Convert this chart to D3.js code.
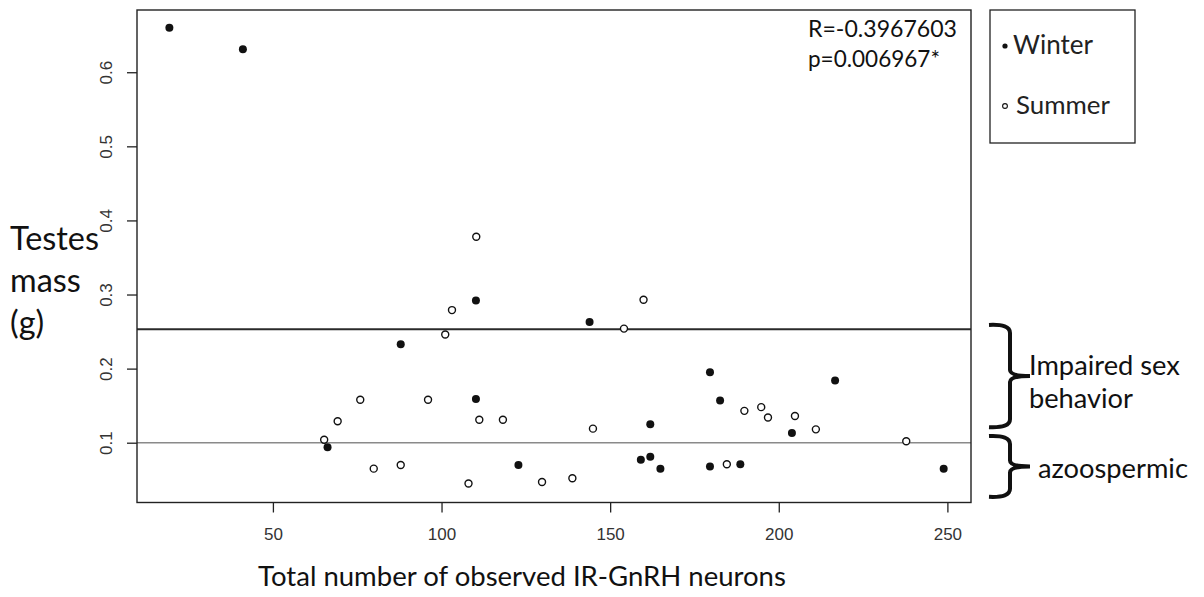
<!DOCTYPE html>
<html>
<head>
<meta charset="utf-8">
<script src="https://cdn.jsdelivr.net/npm/d3@7"></script>
<style>
  html, body { margin: 0; padding: 0; background: #fff; }
  svg { display: block; }
</style>
</head>
<body>
<svg id="chart" width="1204" height="597"></svg>
<script>
// ---------------- data ----------------
const winterX = [19.3, 41.1, 110.2, 87.9, 143.9, 110.2, 161.9, 66.2, 122.8, 159.1, 161.9, 164.9, 179.6, 182.6, 216.7, 203.9, 179.6, 188.6, 248.9];
const winterY = [0.660, 0.631, 0.292, 0.233, 0.263, 0.159, 0.125, 0.094, 0.070, 0.077, 0.081, 0.065, 0.195, 0.157, 0.184, 0.113, 0.068, 0.071, 0.065];
const summerX = [110.3, 103.1, 101.1, 154.1, 159.9, 75.9, 96.0, 69.2, 111.2, 118.2, 144.9, 65.2, 79.9, 87.9, 108.0, 129.8, 138.8, 189.8, 194.8, 196.8, 204.8, 211.0, 237.8, 184.6];
const summerY = [0.378, 0.279, 0.246, 0.254, 0.293, 0.158, 0.158, 0.129, 0.131, 0.131, 0.119, 0.104, 0.065, 0.070, 0.045, 0.047, 0.052, 0.143, 0.148, 0.134, 0.136, 0.118, 0.102, 0.071];
const xTicks = [50, 100, 150, 200, 250];
const yTicks = [0.1, 0.2, 0.3, 0.4, 0.5, 0.6];
const thresholds = [0.253, 0.1];
const braceRanges = [[0.259, 0.121], [0.109, 0.027]];
const braceLabels = [["Impaired sex", "behavior"], ["azoospermic"]];
const legendLabels = ["Winter", "Summer"];
const statLines = ["R=-0.3967603", "p=0.006967*"];
const xTitle = "Total number of observed IR-GnRH neurons";
const yTitle = ["Testes", "mass", "(g)"];

// ---------------- layout ----------------
const svg = d3.select("#chart");
const L = 137, R = 971, T = 10, B = 502.5;
const x = d3.scaleLinear().domain([9.7, 257]).range([L, R]);
const y = d3.scaleLinear().domain([0.0193, 0.684]).range([B, T]);
const calib = "Lato, 'Open Sans', sans-serif";
const tickFont = "'Liberation Sans', Arial, sans-serif";

function fit(sel, w) {
  sel.each(function () {
    const n = this;
    const fs = parseFloat(n.getAttribute("font-size"));
    const len = n.getComputedTextLength();
    if (len > 0) n.setAttribute("font-size", (fs * w / len).toFixed(2));
  });
}

// threshold lines
svg.append("g").selectAll("line").data(thresholds).join("line")
  .attr("x1", L).attr("x2", R)
  .attr("y1", d => y(d)).attr("y2", d => y(d))
  .attr("stroke", (d, i) => i === 0 ? "#2a2a2a" : "#8a8a8a")
  .attr("stroke-width", (d, i) => i === 0 ? 2 : 1.6);

// frame
svg.append("rect").attr("x", L).attr("y", T).attr("width", R - L).attr("height", B - T)
  .attr("fill", "none").attr("stroke", "#222").attr("stroke-width", 1.4);

// x axis
const gx = svg.append("g").attr("transform", `translate(0,${B})`)
  .call(d3.axisBottom(x).tickValues(xTicks).tickSize(10).tickPadding(15).tickFormat(d3.format("d")));
gx.select(".domain").remove();
gx.selectAll(".tick line").attr("stroke", "#222").attr("stroke-width", 1.3);
gx.selectAll(".tick text").attr("font-family", tickFont).attr("font-size", 17).attr("fill", "#333");

// y axis
const gy = svg.append("g").attr("transform", `translate(${L},0)`)
  .call(d3.axisLeft(y).tickValues(yTicks).tickSize(10).tickFormat(d3.format(".1f")));
gy.select(".domain").remove();
gy.selectAll(".tick line").attr("stroke", "#222").attr("stroke-width", 1.3);
gy.selectAll(".tick text")
  .attr("font-family", tickFont).attr("font-size", 17).attr("fill", "#333")
  .attr("text-anchor", "middle").attr("dy", null).attr("x", null)
  .attr("transform", "translate(-25,0) rotate(-90)");

// points
const winter = winterX.map((v, i) => [v, winterY[i]]);
const summer = summerX.map((v, i) => [v, summerY[i]]);
svg.append("g").selectAll("circle").data(summer).join("circle")
  .attr("cx", d => x(d[0])).attr("cy", d => y(d[1])).attr("r", 3.5)
  .attr("fill", "#fff").attr("stroke", "#111").attr("stroke-width", 1.4);
svg.append("g").selectAll("circle").data(winter).join("circle")
  .attr("cx", d => x(d[0])).attr("cy", d => y(d[1])).attr("r", 4)
  .attr("fill", "#111");

// stats text
const st = svg.append("g").selectAll("text").data(statLines).join("text")
  .attr("x", 808).attr("y", (d, i) => 37 + i * 30)
  .attr("font-family", calib).attr("font-size", 18).attr("fill", "#111")
  .text(d => d);
fit(st.filter((d, i) => i === 0), 149);
fit(st.filter((d, i) => i === 1), 132);

// legend
svg.append("rect").attr("x", 990).attr("y", 10).attr("width", 145).attr("height", 133)
  .attr("fill", "#fff").attr("stroke", "#222").attr("stroke-width", 1.3);
const lg = svg.append("g").selectAll("g").data(legendLabels).join("g")
  .attr("transform", (d, i) => `translate(0,${i * 60})`);
lg.append("circle").attr("cx", 1005).attr("cy", 46)
  .attr("r", (d, i) => i === 0 ? 2.6 : 2.4)
  .attr("fill", (d, i) => i === 0 ? "#111" : "#fff")
  .attr("stroke", "#111").attr("stroke-width", (d, i) => i === 0 ? 0 : 1.1);
const lt = lg.append("text").attr("x", (d, i) => i === 0 ? 1013 : 1016).attr("y", 54)
  .attr("font-family", calib).attr("font-size", 20).attr("fill", "#222").text(d => d);
fit(lt.filter((d, i) => i === 0), 80);
fit(lt.filter((d, i) => i === 1), 94);

// braces
function bracePath(x0, y0, y1) {
  const xb = x0 + 21, xt = x0 + 41, ym = (y0 + y1) / 2, p = d3.path();
  p.moveTo(x0, y0);
  p.quadraticCurveTo(xb, y0 - 1, xb, y0 + 8);
  p.lineTo(xb, ym - 6);
  p.quadraticCurveTo(xb, ym, xt, ym);
  p.quadraticCurveTo(xb, ym, xb, ym + 6);
  p.lineTo(xb, y1 - 8);
  p.quadraticCurveTo(xb, y1 + 1, x0, y1);
  return p.toString();
}
svg.append("g").selectAll("path").data(braceRanges).join("path")
  .attr("d", d => bracePath(989, y(d[0]), y(d[1])))
  .attr("fill", "none").attr("stroke", "#111").attr("stroke-width", 4).attr("stroke-linecap", "butt");

const bt = svg.append("g");
const t1 = bt.append("text").attr("x", 1029).attr("y", 375).attr("font-family", calib)
  .attr("font-size", 24).attr("fill", "#111").text(braceLabels[0][0]);
fit(t1, 151);
const t2 = bt.append("text").attr("x", 1029).attr("y", 408).attr("font-family", calib)
  .attr("font-size", 24).attr("fill", "#111").text(braceLabels[0][1]);
fit(t2, 104);
const t3 = bt.append("text").attr("x", 1038).attr("y", 478).attr("font-family", calib)
  .attr("font-size", 24).attr("fill", "#111").text(braceLabels[1][0]);
fit(t3, 150);

// axis titles
const xt = svg.append("text").attr("x", 522).attr("y", 586).attr("text-anchor", "middle")
  .attr("font-family", calib).attr("font-size", 24).attr("fill", "#111").text(xTitle);
fit(xt, 528);

const yt = svg.append("g").selectAll("text").data(yTitle).join("text")
  .attr("x", 10).attr("y", (d, i) => 250 + i * 42)
  .attr("font-family", calib).attr("font-size", 26).attr("fill", "#111").text(d => d);
fit(yt.filter((d, i) => i === 0), 89);
const fsY = yt.filter((d, i) => i === 0).attr("font-size");
yt.attr("font-size", fsY);
</script>
</body>
</html>
